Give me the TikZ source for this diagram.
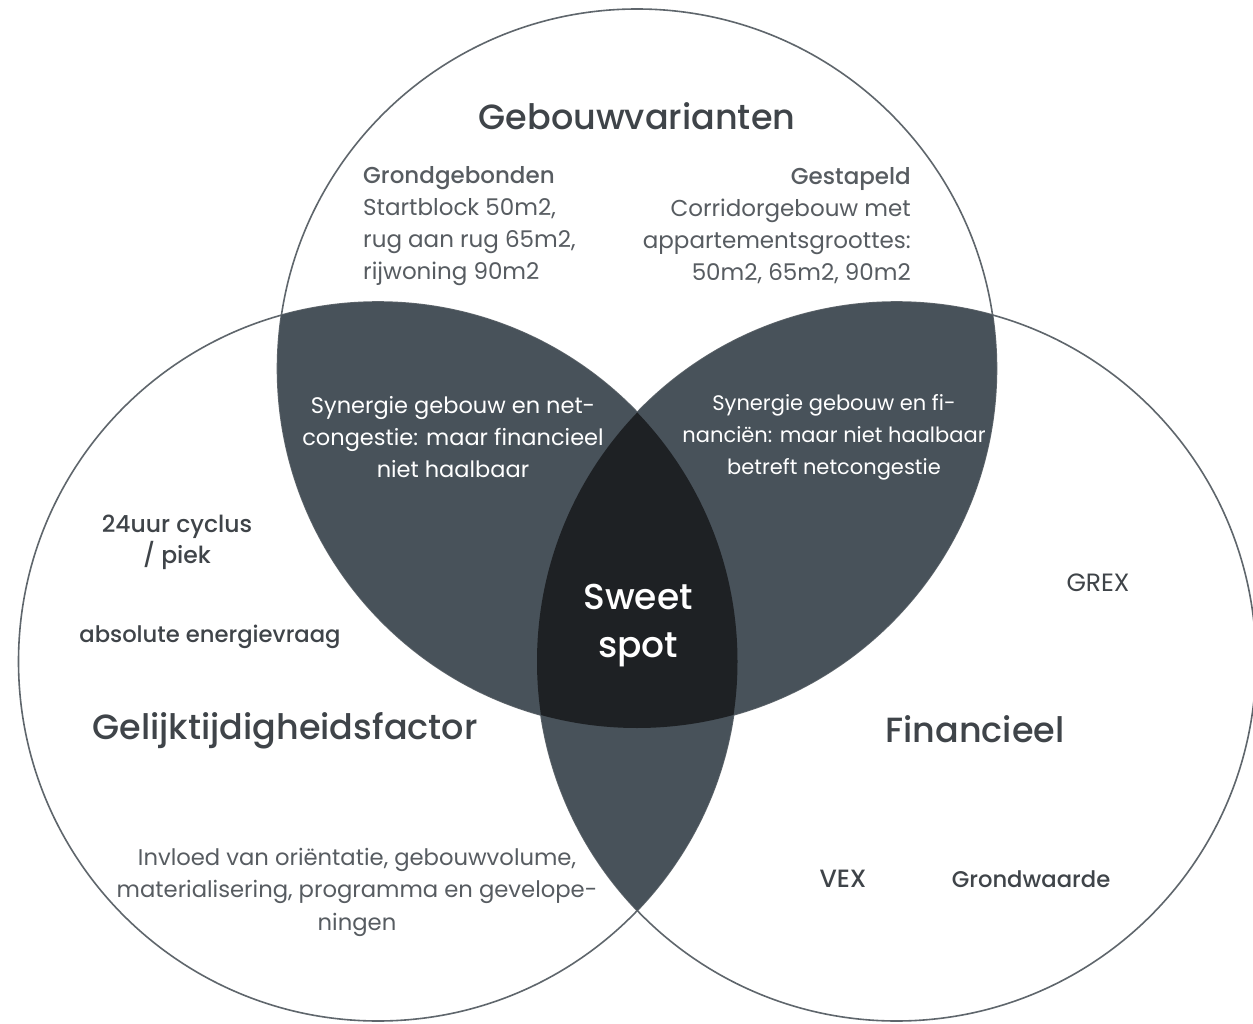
\documentclass[tikz,border=0pt]{standalone}
\usepackage{fontspec}
\setmainfont{Poppins}
\newfontfamily\medfont{Poppins Medium}
\definecolor{slate}{HTML}{48525A}
\definecolor{deep}{HTML}{1E2124}
\definecolor{rim}{HTML}{5F666C}
\definecolor{ink}{HTML}{3F4449}
\definecolor{softink}{HTML}{575C61}
\tikzset{
  ring/.style={draw=rim, line width=1.6pt},
  title/.style={text=ink, font=\medfont\fontsize{35}{40}\selectfont, inner sep=0pt},
  body/.style={text=softink, font=\fontsize{23}{32}\selectfont, inner sep=0pt},
  tag/.style={text=ink, font=\medfont\fontsize{22.7}{31}\selectfont, inner sep=0pt},
  lens/.style={text=white, font=\fontsize{22}{32}\selectfont, inner sep=0pt, align=center},
}
\begin{document}
\begin{tikzpicture}[x=1pt,y=-1pt]
\useasboundingbox (0,0) rectangle (1253,1024);
\clip (0,0) rectangle (1253,1024);
\fill[white] (0,0) rectangle (1253,1024);
\coordinate (T) at (637,368.5);
\coordinate (L) at (378,661.5);
\coordinate (R) at (896.5,661.5);
\def\rad{359.5pt}
% outlines
\draw[ring] (T) circle[radius=\rad];
\draw[ring] (L) circle[radius=\rad];
\draw[ring] (R) circle[radius=\rad];
% pairwise overlaps
\begin{scope}
  \clip (T) circle[radius=\rad];
  \fill[slate] (L) circle[radius=\rad];
  \fill[slate] (R) circle[radius=\rad];
\end{scope}
\begin{scope}
  \clip (L) circle[radius=\rad];
  \fill[slate] (R) circle[radius=\rad];
\end{scope}
% triple overlap
\begin{scope}
  \clip (T) circle[radius=\rad];
  \clip (L) circle[radius=\rad];
  \fill[deep] (R) circle[radius=\rad];
\end{scope}
% titles
\node[title] (gebouw) at (637,116) {Gebouwvarianten};
\node[title] (gelijk) at (285,731) {Gelijktijdigheidsfactor};
\node[title] (fin) at (975,729) {Financieel};
% top blocks
\node[body, anchor=west, align=left] (grond) at (363,226)
  {{\medfont Grondgebonden}\\Startblock 50m2,\\rug aan rug 65m2,\\rijwoning 90m2};
\node[body, anchor=east, align=right] (gestap) at (911,226)
  {{\medfont Gestapeld}\\Corridorgebouw met\\appartementsgroottes:\\50m2, 65m2, 90m2};
% lens texts
\node[lens, font=\fontsize{22.5}{32}\selectfont] (lensL) at (453,437) {Synergie gebouw en net-\\congestie: maar financieel\\niet haalbaar};
\node[lens, font=\fontsize{21}{32}\selectfont] (lensR) at (834,437) {Synergie gebouw en fi-\\nanciën: maar niet haalbaar\\betreft netcongestie};
\node[text=white, font=\medfont\fontsize{36}{48}\selectfont, align=center, inner sep=0pt] (sweet) at (638,626) {Sweet\\spot};
% left circle
\node[tag, font=\medfont\fontsize{23.5}{31}\selectfont, align=center] (cyclus) at (177,542) {24uur cyclus\\/ piek};
\node[tag] (abs) at (210,637) {absolute energievraag};
\node[body, font=\fontsize{22.7}{32.5}\selectfont, align=center] (invloed) at (357,892)
  {Invloed van oriëntatie, gebouwvolume,\\materialisering, programma en gevelope-\\ningen};
% right circle
\node[tag, font=\fontsize{25}{31}\selectfont] (grex) at (1098,583) {GREX};
\node[tag, font=\medfont\fontsize{25}{31}\selectfont] (vex) at (843,879) {VEX};
\node[tag] (gw) at (1031,879) {Grondwaarde};
\end{tikzpicture}
\end{document}
